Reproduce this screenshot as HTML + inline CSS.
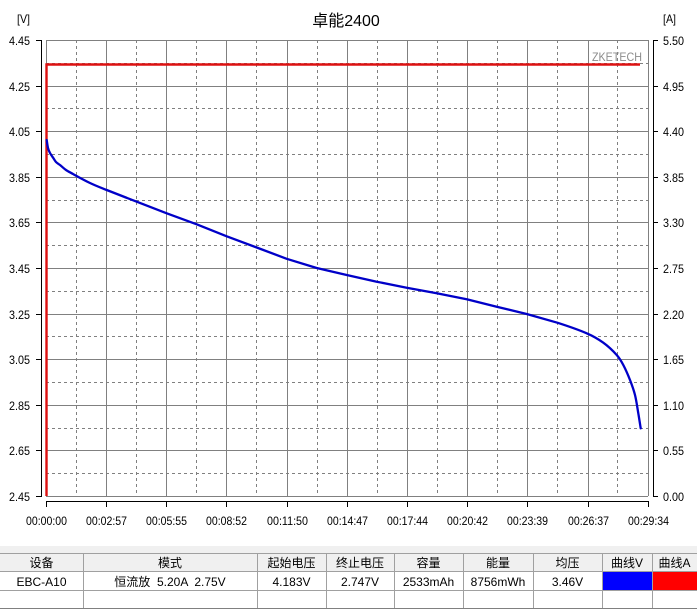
<!DOCTYPE html>
<html><head><meta charset="utf-8"><style>
html,body{margin:0;padding:0;background:#fff;}
svg{display:block;}
text{font-family:"Liberation Sans","Noto Sans CJK SC",sans-serif;fill:#000;}
</style></head><body>
<svg width="697" height="609" viewBox="0 0 697 609" xmlns="http://www.w3.org/2000/svg">
<rect x="0" y="0" width="697" height="609" fill="#fff"/>
<!-- title -->
<text x="346" y="26" font-size="16" text-anchor="middle">卓能2400</text>
<text x="17" y="23" font-size="12" textLength="13" lengthAdjust="spacingAndGlyphs">[V]</text>
<text x="663" y="23" font-size="12" textLength="13" lengthAdjust="spacingAndGlyphs">[A]</text>

<!-- grid -->
<g stroke="#808080" stroke-width="1" shape-rendering="crispEdges" fill="none">
<path d="M46 40.5H648M46 86.5H648M46 131.5H648M46 177.5H648M46 222.5H648M46 268.5H648M46 314.5H648M46 359.5H648M46 405.5H648M46 450.5H648M46 496.5H648"/>
<path d="M46.5 40V496M106.5 40V496M166.5 40V496M226.5 40V496M287.5 40V496M347.5 40V496M407.5 40V496M467.5 40V496M527.5 40V496M588.5 40V496M648.5 40V496"/>
<path stroke-dasharray="3,3" d="M46 63.5H648M46 108.5H648M46 154.5H648M46 200.5H648M46 245.5H648M46 291.5H648M46 336.5H648M46 382.5H648M46 428.5H648M46 473.5H648"/>
<path stroke-dasharray="3,3" d="M76.5 40V496M136.5 40V496M196.5 40V496M256.5 40V496M317.5 40V496M377.5 40V496M437.5 40V496M497.5 40V496M557.5 40V496M617.5 40V496"/>
</g>

<!-- watermark -->
<text x="592" y="61" font-size="12" style="fill:#8c8c8c" textLength="50" lengthAdjust="spacingAndGlyphs">ZKETECH</text>

<!-- axes -->
<g stroke="#000" stroke-width="1" shape-rendering="crispEdges" fill="none">
<path d="M41.5 40V497"/>
<path d="M36 40.5H41M36 86.5H41M36 131.5H41M36 177.5H41M36 222.5H41M36 268.5H41M36 314.5H41M36 359.5H41M36 405.5H41M36 450.5H41M36 496.5H41"/>
<path d="M653.5 40V497"/>
<path d="M653 40.5H658M653 86.5H658M653 131.5H658M653 177.5H658M653 222.5H658M653 268.5H658M653 314.5H658M653 359.5H658M653 405.5H658M653 450.5H658M653 496.5H658"/>
<path d="M46 501.5H649"/>
<path d="M46.5 501V507M106.5 501V507M166.5 501V507M226.5 501V507M287.5 501V507M347.5 501V507M407.5 501V507M467.5 501V507M527.5 501V507M588.5 501V507M648.5 501V507"/>
</g>

<!-- left labels -->
<g font-size="12" text-anchor="end">
<text x="30" y="45" textLength="21" lengthAdjust="spacingAndGlyphs">4.45</text>
<text x="30" y="91" textLength="21" lengthAdjust="spacingAndGlyphs">4.25</text>
<text x="30" y="136" textLength="21" lengthAdjust="spacingAndGlyphs">4.05</text>
<text x="30" y="182" textLength="21" lengthAdjust="spacingAndGlyphs">3.85</text>
<text x="30" y="227" textLength="21" lengthAdjust="spacingAndGlyphs">3.65</text>
<text x="30" y="273" textLength="21" lengthAdjust="spacingAndGlyphs">3.45</text>
<text x="30" y="319" textLength="21" lengthAdjust="spacingAndGlyphs">3.25</text>
<text x="30" y="364" textLength="21" lengthAdjust="spacingAndGlyphs">3.05</text>
<text x="30" y="410" textLength="21" lengthAdjust="spacingAndGlyphs">2.85</text>
<text x="30" y="455" textLength="21" lengthAdjust="spacingAndGlyphs">2.65</text>
<text x="30" y="501" textLength="21" lengthAdjust="spacingAndGlyphs">2.45</text>
</g>
<!-- right labels -->
<g font-size="12">
<text x="663" y="45" textLength="21" lengthAdjust="spacingAndGlyphs">5.50</text>
<text x="663" y="91" textLength="21" lengthAdjust="spacingAndGlyphs">4.95</text>
<text x="663" y="136" textLength="21" lengthAdjust="spacingAndGlyphs">4.40</text>
<text x="663" y="182" textLength="21" lengthAdjust="spacingAndGlyphs">3.85</text>
<text x="663" y="227" textLength="21" lengthAdjust="spacingAndGlyphs">3.30</text>
<text x="663" y="273" textLength="21" lengthAdjust="spacingAndGlyphs">2.75</text>
<text x="663" y="319" textLength="21" lengthAdjust="spacingAndGlyphs">2.20</text>
<text x="663" y="364" textLength="21" lengthAdjust="spacingAndGlyphs">1.65</text>
<text x="663" y="410" textLength="21" lengthAdjust="spacingAndGlyphs">1.10</text>
<text x="663" y="455" textLength="21" lengthAdjust="spacingAndGlyphs">0.55</text>
<text x="663" y="501" textLength="21" lengthAdjust="spacingAndGlyphs">0.00</text>
</g>
<!-- x labels -->
<g font-size="12">
<text x="26" y="525" textLength="41" lengthAdjust="spacingAndGlyphs">00:00:00</text>
<text x="86" y="525" textLength="41" lengthAdjust="spacingAndGlyphs">00:02:57</text>
<text x="146" y="525" textLength="41" lengthAdjust="spacingAndGlyphs">00:05:55</text>
<text x="206" y="525" textLength="41" lengthAdjust="spacingAndGlyphs">00:08:52</text>
<text x="267" y="525" textLength="41" lengthAdjust="spacingAndGlyphs">00:11:50</text>
<text x="327" y="525" textLength="41" lengthAdjust="spacingAndGlyphs">00:14:47</text>
<text x="387" y="525" textLength="41" lengthAdjust="spacingAndGlyphs">00:17:44</text>
<text x="447" y="525" textLength="41" lengthAdjust="spacingAndGlyphs">00:20:42</text>
<text x="507" y="525" textLength="41" lengthAdjust="spacingAndGlyphs">00:23:39</text>
<text x="568" y="525" textLength="41" lengthAdjust="spacingAndGlyphs">00:26:37</text>
<text x="628" y="525" textLength="41" lengthAdjust="spacingAndGlyphs">00:29:34</text>
</g>

<!-- red current line -->
<polyline points="46.5,496 46.5,64.5 640,64.5" fill="none" stroke="#dd1111" stroke-width="2.4"/>
<!-- blue voltage curve -->
<path fill="none" stroke="#0000c8" stroke-width="2.3" stroke-linejoin="round" stroke-linecap="round"
d="M46.7,140 C46.9,141.3 47.45,145.8 48,148 C48.55,150.2 49.1,151.3 50,153 C50.9,154.7 52.3,156.5 53.3,158 C54.3,159.5 54.9,160.8 56,162 C57.1,163.2 58.3,163.7 60,165 C61.7,166.3 63.8,168.5 66,170 C68.2,171.5 71.2,172.9 73,174 C77,176.2 84.4,180.3 90,183 C95.6,185.7 98.9,186.9 106.7,190 C114.5,193.1 126.7,197.8 136.7,201.7 L166.7,213.3 L196.7,224.3 L226.7,236.3 L256.7,247.5 L286.7,258.8 L316.7,268 L346.7,275 L376.7,281.7 L406.7,287.7 L436.7,293.3 L466.7,299.3 L496.7,306.7 L526.7,314 L557.3,322.7 C567.3,325.9 579,330 586.7,333.3 C594.4,336.6 598.3,339.1 603.3,342.7 C608.3,346.3 613.4,351.3 616.7,355 C620,358.7 621.1,360.8 623.3,365 C625.5,369.2 628.05,375 630,380 C631.95,385 633.6,389.45 635,395 C636.4,400.55 637.35,407.75 638.3,413.3 C639.25,418.85 640.3,425.8 640.7,428.3"/>

<!-- table -->
<rect x="0" y="546" width="697" height="26" fill="#f0f0f0"/>
<rect x="0" y="572" width="697" height="37" fill="#fff"/>
<rect x="602" y="572" width="50" height="18" fill="#0000ff"/>
<rect x="652" y="572" width="45" height="18" fill="#ff0000"/>
<g stroke="#a0a0a0" stroke-width="1" shape-rendering="crispEdges" fill="none">
<path d="M0 553.5H697M0 571.5H697M0 590.5H697"/>
<path d="M83.5 553V608M257.5 553V608M326.5 553V608M394.5 553V608M463.5 553V608M533.5 553V608M602.5 553V608M652.5 553V608"/>
</g>
<path d="M0 608.5H697" stroke="#808080" stroke-width="1" shape-rendering="crispEdges"/>
<g font-size="12" text-anchor="middle">
<text x="41.5" y="567">设备</text>
<text x="170" y="567">模式</text>
<text x="291.5" y="567">起始电压</text>
<text x="360" y="567">终止电压</text>
<text x="428.5" y="567">容量</text>
<text x="498" y="567">能量</text>
<text x="567.5" y="567">均压</text>
<text x="627" y="567">曲线V</text>
<text x="674.5" y="567">曲线A</text>
<text x="41.5" y="586">EBC-A10</text>
<text x="170" y="586" xml:space="preserve">恒流放  5.20A  2.75V</text>
<text x="291.5" y="586">4.183V</text>
<text x="360" y="586">2.747V</text>
<text x="428.5" y="586">2533mAh</text>
<text x="498" y="586">8756mWh</text>
<text x="567.5" y="586">3.46V</text>
</g>
</svg>
</body></html>
